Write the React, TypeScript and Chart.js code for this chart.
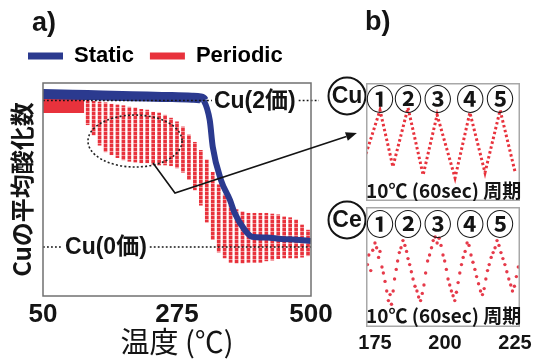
import React, { useEffect, useRef } from 'react';
import { Chart, registerables } from 'chart.js';

Chart.register(...registerables);

const LATIN = "'Liberation Sans', Arial, 'Noto Sans CJK JP', sans-serif";
const CJK = "'Noto Sans CJK JP', 'Liberation Sans', sans-serif";
const RED = '#e8323c';
const BLUE = '#2b3a8f';
const INK = '#141414';

// ---------- Panel a: Cu average oxidation number vs temperature ----------
const xTicksA = [50, 275, 500];

const staticT = [50, 100, 150, 200, 250, 300, 314, 320, 330, 335, 349, 364, 372, 389, 401, 425, 450, 475, 500];
const staticV = [2.09, 2.08, 2.07, 2.06, 2.05, 2.04, 2.03, 2.0, 1.73, 1.37, 0.91, 0.64, 0.46, 0.23, 0.14, 0.13, 0.11, 0.1, 0.08];

const periodicT = [125, 135, 145, 155, 165, 175, 185, 195, 205, 215, 225, 235, 245, 255, 265, 275, 285, 295, 305, 315, 325, 335, 345, 355, 365, 375, 385, 395, 405, 415, 425, 435, 445, 455, 465, 475, 485, 495];
const periodicHigh = [2.01, 1.99, 1.98, 1.97, 1.95, 1.94, 1.93, 1.91, 1.9, 1.88, 1.87, 1.84, 1.83, 1.8, 1.76, 1.71, 1.64, 1.53, 1.43, 1.32, 1.19, 1.02, 0.85, 0.71, 0.57, 0.51, 0.48, 0.46, 0.46, 0.46, 0.46, 0.45, 0.44, 0.41, 0.4, 0.37, 0.3, 0.23];
const periodicLow = [1.67, 1.53, 1.39, 1.3, 1.26, 1.22, 1.19, 1.17, 1.16, 1.15, 1.15, 1.13, 1.12, 1.12, 1.11, 1.08, 1.02, 0.92, 0.78, 0.57, 0.34, 0.1, -0.07, -0.15, -0.21, -0.22, -0.22, -0.21, -0.21, -0.21, -0.19, -0.18, -0.16, -0.15, -0.15, -0.15, -0.14, -0.12];

// continuous part of the periodic run before the oscillation opens up
const periodicBandT = [50, 119];
const periodicBandV = [1.94, 1.94];

const refLevels = [
  { v: 2, text: 'Cu(2価)', labelT: 337, extend: 8 },
  { v: 0, text: 'Cu(0価)', labelT: 87, extend: 0 },
];

// zoom ellipse and arrow (data coordinates of panel a)
const ellipse = { t: 204.5, v: 1.447, rt: 79, rv: 0.355 };
const arrowT = [234.7, 271.6, 577];
const arrowV = [1.147, 0.737, 1.556];

// ---------- Panel b: one temperature window (175-225 ℃) ----------
const xTicksB = [175, 200, 225];
const cuT = [171.8, 176.8, 181.4, 186.8, 192.2, 197.2, 203.6, 208.9, 214.3, 219.7, 225.0];
const cuV = [40, 77, 29, 79, 22, 73, 19.5, 75, 24, 77, 25];

const ceT = [172.3, 172.8, 173.5, 174.2, 175.0, 175.6, 176.3, 176.8, 177.5, 178.0, 178.6, 179.2, 179.8, 180.4, 180.9,
  181.5, 182.0, 182.6, 183.1, 183.7, 184.3, 185.0, 185.7, 186.3, 186.8, 187.4, 188.0, 188.6, 189.3, 190.0, 190.6, 191.3,
  191.9, 192.5, 193.1, 193.8, 194.5, 195.2, 195.8, 196.5, 197.2, 197.9, 198.6, 199.3, 199.9, 200.5, 201.1, 201.7, 202.3,
  202.9, 203.5, 204.1, 204.7, 205.3, 205.9, 206.5, 207.2, 207.9, 208.6, 209.3, 210.0, 210.7, 211.3, 212.0, 212.7, 213.4,
  214.0, 214.6, 215.2, 215.8, 216.5, 217.2, 217.9, 218.6, 219.3, 220.0, 220.7, 221.4, 222.1, 222.8, 223.5, 224.1, 224.8,
  225.5, 226.2];
const ceV = [52, 60, 47, 64, 70, 66, 58, 63, 50, 45, 38, 30, 22, 27, 19,
  30, 40, 48, 55, 62, 66, 72, 68, 63, 57, 52, 46, 40, 34, 30, 25, 22,
  28, 35, 45, 55, 60, 66, 72, 75, 70, 74, 68, 60, 55, 48, 40, 35, 30,
  26, 22, 29, 37, 45, 52, 58, 63, 70, 68, 60, 54, 48, 42, 36, 30, 27,
  32, 40, 47, 52, 58, 62, 66, 72, 68, 62, 57, 52, 46, 40, 35, 30, 34,
  42, 50];

const cycleLabels = ['①', '②', '③', '④', '⑤'];
const cycleT = [176.8, 186.8, 197.4, 209.0, 219.7];
const cycleCaption = '10℃ (60sec) 周期';

const pts = (xs: number[], ys: any[]) => xs.map((x, i) => ({ x, y: ys[i] }));

function stripePattern(): any {
  const c = document.createElement('canvas');
  c.width = 3;
  c.height = 4;
  const g = c.getContext('2d') as CanvasRenderingContext2D;
  g.fillStyle = RED;
  g.fillRect(0, 0, 3, 3);
  g.fillStyle = 'rgba(232,50,60,0.5)';
  g.fillRect(0, 3, 3, 1);
  return g.createPattern(c, 'repeat');
}

const panelAPlugin = {
  id: 'panelA',
  afterLayout(chart: any) {
    const lg = chart.legend;
    if (lg) {
      lg.top -= 6;
      lg.bottom -= 6;
    }
  },
  afterDatasetsDraw(chart: any) {
    const { ctx, chartArea: a, scales } = chart;
    const x = scales.x;
    const y = scales.y;
    ctx.save();
    ctx.font = `bold 23px ${LATIN}`;
    ctx.fillStyle = INK;
    ctx.strokeStyle = INK;
    ctx.textBaseline = 'middle';
    ctx.textAlign = 'left';
    ctx.lineWidth = 1.6;
    ctx.setLineDash([1.8, 2.2]);
    refLevels.forEach((r) => {
      const py = y.getPixelForValue(r.v);
      const tx = x.getPixelForValue(r.labelT);
      const w = ctx.measureText(r.text).width;
      ctx.beginPath();
      ctx.moveTo(a.left, py);
      ctx.lineTo(tx - 2, py);
      ctx.moveTo(tx + w + 3, py);
      ctx.lineTo(a.right + r.extend, py);
      ctx.stroke();
      ctx.fillText(r.text, tx, py + 1);
    });
    ctx.restore();
  },
  afterDraw(chart: any) {
    const { ctx, chartArea: a, scales } = chart;
    const x = scales.x;
    const y = scales.y;
    ctx.save();
    ctx.strokeStyle = '#707070';
    ctx.lineWidth = 1.5;
    ctx.strokeRect(a.left, a.top, a.right - a.left, a.bottom - a.top);

    const cx = x.getPixelForValue(ellipse.t);
    const cy = y.getPixelForValue(ellipse.v);
    const rx = x.getPixelForValue(ellipse.t + ellipse.rt) - cx;
    const ry = cy - y.getPixelForValue(ellipse.v + ellipse.rv);
    ctx.strokeStyle = '#222';
    ctx.lineWidth = 1.6;
    ctx.setLineDash([2, 2.2]);
    ctx.beginPath();
    ctx.ellipse(cx, cy, rx, ry, 0, 0, Math.PI * 2);
    ctx.stroke();

    ctx.setLineDash([]);
    ctx.strokeStyle = INK;
    ctx.fillStyle = INK;
    ctx.lineWidth = 1.6;
    const ap = arrowT.map((t, i) => [x.getPixelForValue(t), y.getPixelForValue(arrowV[i])]);
    const tip = ap[ap.length - 1];
    const prev = ap[ap.length - 2];
    const ang = Math.atan2(tip[1] - prev[1], tip[0] - prev[0]);
    const hl = 11;
    const hw = 4.5;
    ctx.beginPath();
    ctx.moveTo(ap[0][0], ap[0][1]);
    for (let i = 1; i < ap.length - 1; i++) ctx.lineTo(ap[i][0], ap[i][1]);
    ctx.lineTo(tip[0] - Math.cos(ang) * hl, tip[1] - Math.sin(ang) * hl);
    ctx.stroke();
    ctx.beginPath();
    ctx.moveTo(tip[0], tip[1]);
    ctx.lineTo(tip[0] - Math.cos(ang) * hl + Math.sin(ang) * hw, tip[1] - Math.sin(ang) * hl - Math.cos(ang) * hw);
    ctx.lineTo(tip[0] - Math.cos(ang) * hl - Math.sin(ang) * hw, tip[1] - Math.sin(ang) * hl + Math.cos(ang) * hw);
    ctx.closePath();
    ctx.fill();

    ctx.font = `bold 27px ${LATIN}`;
    ctx.textAlign = 'left';
    ctx.textBaseline = 'middle';
    ctx.fillText('a)', 32, 24);
    ctx.fillText('b)', 365, 23);

    ctx.font = `bold 23px ${LATIN}`;
    ctx.textAlign = 'center';
    ctx.lineWidth = 2;
    [['Cu', 347, 96], ['Ce', 347, 220]].forEach(([t, px, py]: any) => {
      ctx.beginPath();
      ctx.arc(px, py, 18.5, 0, Math.PI * 2);
      ctx.stroke();
      ctx.fillText(t, px, py + 1);
    });
    ctx.restore();
  },
};

function panelBPlugin(captionV: number, numV: number) {
  return {
    id: 'panelB',
    afterDraw(chart: any) {
      const { ctx, chartArea: a, scales } = chart;
      const x = scales.x;
      const y = scales.y;
      ctx.save();
      ctx.strokeStyle = '#a8a8a8';
      ctx.lineWidth = 1.5;
      ctx.strokeRect(a.left + 0.75, a.top + 0.75, a.right - a.left - 1.5, a.bottom - a.top - 1.5);
      ctx.fillStyle = INK;
      ctx.textBaseline = 'middle';
      ctx.textAlign = 'center';
      ctx.font = `bold 28px ${CJK}`;
      cycleLabels.forEach((s, i) => ctx.fillText(s, x.getPixelForValue(cycleT[i]), y.getPixelForValue(numV)));
      ctx.textAlign = 'left';
      ctx.font = `bold 19px ${CJK}`;
      ctx.fillText(cycleCaption, a.left, y.getPixelForValue(captionV));
      ctx.restore();
    },
  };
}

function mainConfig(): any {
  return {
    type: 'line',
    data: {
      datasets: [
        {
          label: 'Static',
          type: 'line',
          data: pts(staticT, staticV),
          borderColor: BLUE,
          backgroundColor: BLUE,
          borderWidth: 9,
          pointRadius: 0,
          cubicInterpolationMode: 'monotone',
          segment: { borderWidth: (c: any) => (c.p1.parsed.x <= 320 ? 10 : 6) },
        },
        {
          label: 'Periodic',
          type: 'bar',
          data: pts(periodicT, periodicT.map((_, i) => [periodicLow[i], periodicHigh[i]])),
          backgroundColor: stripePattern(),
          borderWidth: 0,
          barThickness: 3,
          grouped: false,
        },
        {
          label: 'Periodic band',
          type: 'line',
          data: pts(periodicBandT, periodicBandV),
          borderColor: RED,
          borderWidth: 16,
          borderCapStyle: 'butt',
          pointRadius: 0,
        },
      ],
    },
    options: {
      responsive: false,
      animation: false,
      events: [],
      layout: { padding: { left: 12, top: 35, right: 228, bottom: 0 } },
      plugins: {
        tooltip: { enabled: false },
        title: { display: false },
        legend: {
          display: true,
          position: 'top',
          align: 'start',
          labels: {
            boxWidth: 35,
            boxHeight: 7,
            padding: 16,
            color: INK,
            font: { family: LATIN, size: 22, weight: 'bold' },
            generateLabels: () => [
              { text: 'Static', fillStyle: BLUE, strokeStyle: BLUE, lineWidth: 0, hidden: false, datasetIndex: 0 },
              { text: 'Periodic', fillStyle: RED, strokeStyle: RED, lineWidth: 0, hidden: false, datasetIndex: 1 },
            ],
          },
        },
      },
      scales: {
        x: {
          type: 'linear',
          min: 50,
          max: 500,
          offset: false,
          grid: { display: false, drawTicks: false },
          border: { display: false },
          ticks: { color: INK, padding: 3, maxRotation: 0, font: { family: LATIN, size: 26, weight: 'bold' } },
          afterBuildTicks: (s: any) => {
            s.ticks = xTicksA.map((v) => ({ value: v }));
          },
          afterFit: (s: any) => {
            s.height = 66;
          },
          title: {
            display: true,
            text: '温度 (℃)',
            color: INK,
            font: { family: CJK, size: 29 },
            padding: { top: 0, bottom: 3 },
          },
        },
        y: {
          type: 'linear',
          min: -0.67,
          max: 2.24,
          grid: { display: false, drawTicks: false },
          border: { display: false },
          ticks: { display: false },
          afterFit: (s: any) => {
            s.width = 31;
          },
          title: {
            display: true,
            text: 'Cuの平均酸化数',
            color: INK,
            font: { family: CJK, size: 24, weight: 'bold' },
            padding: { top: -5, bottom: 0 },
          },
        },
      },
    },
    plugins: [panelAPlugin],
  };
}

function cuConfig(): any {
  return {
    type: 'line',
    data: {
      datasets: [
        {
          label: 'Cu',
          data: pts(cuT, cuV),
          borderColor: RED,
          borderWidth: 3,
          borderDash: [2.5, 2.5],
          pointRadius: 0,
        },
      ],
    },
    options: {
      responsive: false,
      animation: false,
      events: [],
      layout: { padding: { left: 20, right: 19, top: 0, bottom: 0 } },
      plugins: { legend: { display: false }, tooltip: { enabled: false } },
      scales: {
        x: { type: 'linear', min: 171.8, max: 226.8, display: false },
        y: { type: 'linear', min: 0, max: 100, display: false },
      },
    },
    plugins: [panelBPlugin(8.5, 86)],
  };
}

function ceConfig(): any {
  return {
    type: 'scatter',
    data: {
      datasets: [
        {
          label: 'Ce',
          data: pts(ceT, ceV),
          backgroundColor: '#e63a4a',
          borderWidth: 0,
          pointRadius: 1.7,
        },
      ],
    },
    options: {
      responsive: false,
      animation: false,
      events: [],
      layout: { padding: { left: 20, right: 19, top: 0, bottom: 0 } },
      plugins: { legend: { display: false }, tooltip: { enabled: false } },
      scales: {
        x: {
          type: 'linear',
          min: 171.8,
          max: 226.8,
          grid: { display: false, drawTicks: false },
          border: { display: false },
          ticks: { color: INK, padding: 4, maxRotation: 0, font: { family: LATIN, size: 20, weight: 'bold' } },
          afterBuildTicks: (s: any) => {
            s.ticks = xTicksB.map((v) => ({ value: v }));
          },
          afterFit: (s: any) => {
            s.height = 35;
          },
        },
        y: { type: 'linear', min: 0, max: 100, display: false },
      },
    },
    plugins: [panelBPlugin(9.7, 85.5)],
  };
}

export default function App() {
  const mainRef = useRef<HTMLCanvasElement>(null);
  const cuRef = useRef<HTMLCanvasElement>(null);
  const ceRef = useRef<HTMLCanvasElement>(null);

  useEffect(() => {
    const charts = [
      new Chart(mainRef.current as HTMLCanvasElement, mainConfig()),
      new Chart(cuRef.current as HTMLCanvasElement, cuConfig()),
      new Chart(ceRef.current as HTMLCanvasElement, ceConfig()),
    ];
    return () => charts.forEach((c) => c.destroy());
  }, []);

  return (
    <div style={{ position: 'fixed', left: 0, top: 0, width: 539, height: 362, background: '#fff', overflow: 'hidden' }}>
      <canvas ref={mainRef} width={539} height={362} style={{ position: 'absolute', left: 0, top: 0, width: 539, height: 362 }} />
      <canvas ref={cuRef} width={193} height={118} style={{ position: 'absolute', left: 346, top: 83, width: 193, height: 118 }} />
      <canvas ref={ceRef} width={193} height={159} style={{ position: 'absolute', left: 346, top: 203, width: 193, height: 159 }} />
    </div>
  );
}
